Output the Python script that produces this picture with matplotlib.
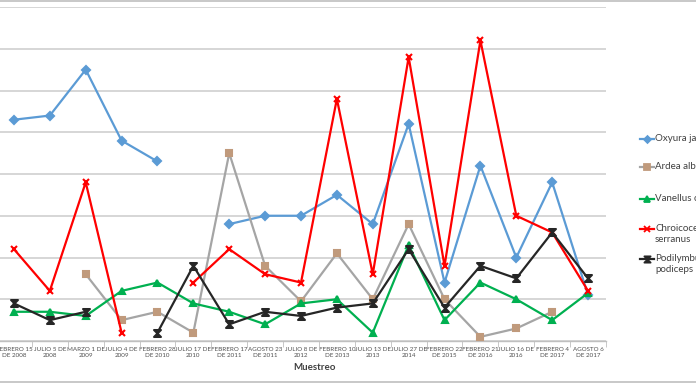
import matplotlib
matplotlib.use("Agg")
import matplotlib.pyplot as plt
import numpy as np
from matplotlib.lines import Line2D
from matplotlib.path import Path
from matplotlib.patches import Rectangle

plt.rcParams['font.family'] = ['Lato', 'DejaVu Sans']

categories = ["FEBRERO 15\nDE 2008", "JULIO 5 DE\n2008", "MARZO 1 DE\n2009", "JULIO 4 DE\n2009",
              "FEBRERO 28\nDE 2010", "JULIO 17 DE\n2010", "FEBRERO 17\nDE 2011", "AGOSTO 23\nDE 2011",
              "JULIO 8 DE\n2012", "FEBRERO 10\nDE 2013", "JULIO 13 DE\n2013", "JULIO 27 DE\n2014",
              "FEBRERO 22\nDE 2015", "FEBRERO 21\nDE 2016", "JULIO 16 DE\n2016", "FEBRERO 4\nDE 2017",
              "AGOSTO 6\nDE 2017"]
nan = np.nan
oxyura = [5.3, 5.4, 6.5, 4.8, 4.3, nan, 2.8, 3.0, 3.0, 3.5, 2.8, 5.2, 1.4, 4.2, 2.0, 3.8, 1.1]
ardea = [nan, nan, 1.6, 0.5, 0.7, 0.2, 4.5, 1.8, 0.95, 2.1, 1.0, 2.8, 1.0, 0.1, 0.3, 0.7, nan]
vanellus = [0.7, 0.7, 0.6, 1.2, 1.4, 0.9, 0.7, 0.4, 0.9, 1.0, 0.2, 2.3, 0.5, 1.4, 1.0, 0.5, 1.15]
chroico = [2.2, 1.2, 3.8, 0.2, nan, 1.4, 2.2, 1.6, 1.4, 5.8, 1.6, 6.8, 1.8, 7.2, 3.0, 2.6, 1.2]
podily = [0.9, 0.5, 0.7, nan, 0.2, 1.8, 0.4, 0.7, 0.6, 0.8, 0.9, 2.2, 0.8, 1.8, 1.5, 2.6, 1.5]
legend_labels = ["Oxyura jamaicensis", "Ardea alba", "Vanellus chilensis",
                 "Chroicocephalus\nserranus", "Podilymbus\npodiceps"]

W, H = 696, 385
fig = plt.figure(figsize=(W/100, H/100), dpi=100)
# frame lines top and bottom
fig.add_artist(Rectangle((-0.01, 3/H), 1.02, 1 - 4/H, transform=fig.transFigure,
                         fill=False, edgecolor='#BFBFBF', lw=1.2))

ax = fig.add_axes([-4/W, (H-341)/H, 610/W, 334/H])
x = np.arange(len(categories))

hourglass = Path([(-1, 1), (1, 1), (-1, -1), (1, -1), (-1, 1)],
                 [Path.MOVETO, Path.LINETO, Path.LINETO, Path.LINETO, Path.CLOSEPOLY])

series = [
    (oxyura, '#5B9BD5', '#5B9BD5', 'D', 4, 'none'),
    (ardea, '#A5A5A5', '#C09A7C', 's', 4.5, None),
    (vanellus, '#00B050', '#00B050', '^', 5, None),
    (chroico, '#FF0000', '#FF0000', 'x', 5, None),
    (podily, '#262626', '#262626', hourglass, 5, None),
]
for vals, lc, mc, mk, ms, _ in series:
    v = np.array(vals, dtype=float)
    ax.plot(x, v, color=lc, lw=1.6, marker=mk, ms=ms, mfc=mc, mec=mc, mew=1.5, zorder=3)

ax.set_xlim(-0.5, len(categories) - 0.5)
ax.set_ylim(0, 8)
ax.set_yticks(np.arange(0, 9))
ax.yaxis.grid(True, color='#D0D0D0', lw=1.2)
ax.set_axisbelow(True)
ax.tick_params(axis='y', length=0, labelleft=False)
for s in ['left', 'right', 'top']:
    ax.spines[s].set_visible(False)
ax.spines['bottom'].set_color('#BFBFBF')
ax.spines['bottom'].set_linewidth(1.0)
ax.set_xticks(x)
ax.set_xticklabels(categories, fontsize=4.5, color='#505050', linespacing=1.4)
ax.set_xticks(np.arange(-0.5, len(categories)), minor=True)
ax.tick_params(axis='x', which='major', length=0, pad=4)
ax.tick_params(axis='x', which='minor', length=4, color='#BFBFBF')
ax.set_xlabel("Muestreo", fontsize=7, fontweight='bold', color='#404040', labelpad=3)
ax.xaxis.set_label_coords((315 + 4) / 610, -22/334)

# legend (manual)
leg_y = [139, 167, 199, 229, 259]
for (vals, lc, mc, mk, ms, _), lab, yy in zip(series, legend_labels, leg_y):
    yf = 1 - yy / H
    fig.add_artist(Line2D([640/W, 654/W], [yf, yf], transform=fig.transFigure,
                          color=lc, lw=1.6))
    fig.add_artist(Line2D([647/W], [yf], transform=fig.transFigure, marker=mk, ms=ms - 0.5,
                          mfc=mc, mec=mc, mew=1.3, color=lc))
    fig.text(655/W, yf + 5/H, lab, fontsize=7, color='#404040', va='top', ha='left',
             linespacing=1.35, transform=fig.transFigure)

fig.savefig("out.png", dpi=100)
